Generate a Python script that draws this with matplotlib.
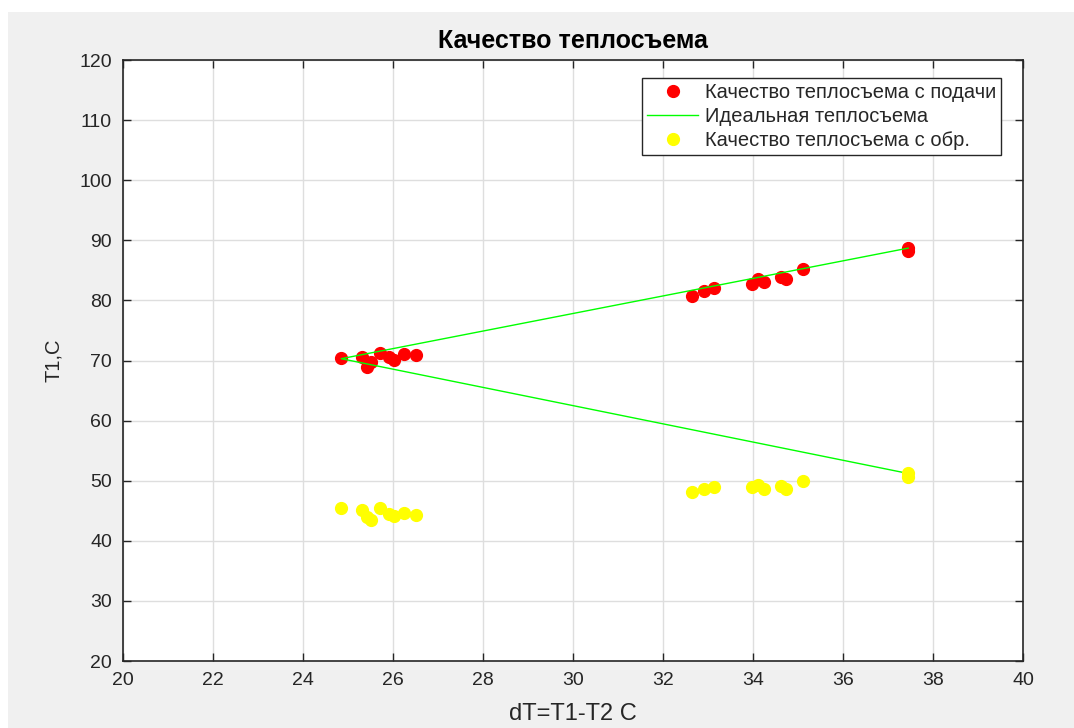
import matplotlib.pyplot as plt
from matplotlib.patches import Rectangle

# supply side (red)
dT_low = [24.85, 25.31, 25.42, 25.5, 25.7, 25.9, 26.02, 26.24, 26.5]
t1_low = [70.4, 70.6, 69.0, 69.8, 71.3, 70.5, 70.1, 71.0, 70.9]
dT_high = [32.64, 32.9, 33.13, 33.98, 34.1, 34.24, 34.62, 34.73, 35.1, 37.45, 37.45]
t1_high = [80.8, 81.6, 82.1, 82.8, 83.5, 83.1, 83.9, 83.6, 85.2, 88.8, 88.2]

# return side (yellow)
t2_low = [45.4, 45.1, 44.0, 43.5, 45.4, 44.4, 44.1, 44.6, 44.3]
t2_high = [48.1, 48.6, 49.0, 49.0, 49.3, 48.7, 49.2, 48.7, 50.0, 51.2, 50.6]

# ideal line
ideal_x = [37.45, 24.85, 37.45]
ideal_y = [88.7, 70.3, 51.2]

dT = dT_low + dT_high
t1 = t1_low + t1_high
t2 = t2_low + t2_high

plt.rcParams['font.family'] = ['Liberation Sans', 'DejaVu Sans']
dark = '#262626'

fig = plt.figure(figsize=(10.74, 7.28), dpi=100, facecolor='white')
# matlab-like grey figure background
fig.patches.append(Rectangle((8 / 1074, 0), 1, 1 - 12 / 728, transform=fig.transFigure,
                             facecolor='#f0f0f0', edgecolor='none', zorder=-10))

ax = fig.add_axes([123 / 1074, 67 / 728, 900 / 1074, 601 / 728])
ax.set_facecolor('white')

ax.plot(dT, t1, 'o', color='red', ms=8.5, label='Качество теплосъема с подачи')
ax.plot(ideal_x, ideal_y, '-', color='#00ff00', lw=1, label='Идеальная теплосъема')
ax.plot(dT, t2, 'o', color='yellow', ms=8.5, label='Качество теплосъема с обр.')

ax.set_xlim(20, 40)
ax.set_ylim(20, 120)
ax.set_xticks(range(20, 41, 2))
ax.set_yticks(range(20, 121, 10))
ax.grid(True, color='#dedede', linewidth=1)
ax.set_axisbelow(True)
ax.tick_params(direction='in', length=6, width=1, colors=dark, labelsize=14,
               top=True, right=True, pad=8)
for s in ax.spines.values():
    s.set_color(dark)
    s.set_linewidth(1.2)

ax.set_title('Качество теплосъема', fontsize=18, fontweight='bold', color='black', pad=9)
ax.set_xlabel('dT=T1-T2 C', fontsize=17, color=dark, labelpad=10)
ax.set_ylabel('T1,C', fontsize=14.5, color=dark, labelpad=12)

leg = ax.legend(loc='upper right', bbox_to_anchor=(0.9756, 0.970), fontsize=14.5,
                fancybox=False, framealpha=1, edgecolor=dark, borderpad=0.25,
                labelspacing=0.24, handlelength=2.5, handletextpad=0.35,
                borderaxespad=0)
leg.get_frame().set_linewidth(1)
for t in leg.get_texts():
    t.set_color(dark)

plt.savefig('out.png', dpi=100, facecolor=fig.get_facecolor())
